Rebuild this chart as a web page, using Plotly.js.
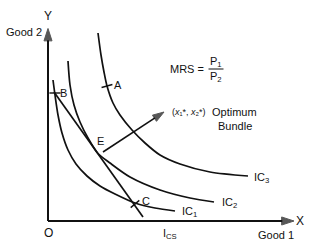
<!DOCTYPE html>
<html><head><meta charset="utf-8">
<script src="https://cdn.plot.ly/plotly-3.0.1.min.js"></script>
<style>html,body{margin:0;padding:0;background:#fff}#chart{width:310px;height:246px}</style>
</head><body><div id="chart"></div>
<script>
// Indifference curves (data units: Good 1 on x, Good 2 on y)
var ic1X = [0.2, 0.28, 0.4, 0.56, 0.8, 1.12, 1.56, 2.08, 2.68, 3.48, 4.28, 5.08];
var ic1Y = [5.64, 5.04, 4.24, 3.52, 2.84, 2.28, 1.8, 1.4, 1.08, 0.72, 0.52, 0.4];
var ic2X = [0.8, 0.88, 1.04, 1.28, 1.6, 2.0, 2.48, 3.28, 4.48, 5.68, 6.64];
var ic2Y = [6.4, 5.44, 4.64, 3.96, 3.32, 2.70, 2.32, 1.76, 1.24, 0.92, 0.76];
var ic3X = [2.0, 2.12, 2.24, 2.36, 2.6, 2.88, 3.36, 3.88, 4.48, 5.28, 6.48, 8.0];
var ic3Y = [7.52, 6.64, 5.96, 5.4, 4.72, 4.24, 3.64, 3.12, 2.64, 2.28, 1.96, 1.8];
// Budget line
var budgetX = [0.24, 3.8];
var budgetY = [5.16, 0.16];
// Marked points
var pointNames = ["A", "B", "C"];
var pointX = [2.36, 0.28, 3.48];
var pointY = [5.4, 5.12, 0.68];
var pointAngles = [-15, 0, -40];
// Optimum arrow (E -> label)
var arrowX = [2.2, 4.64];
var arrowY = [2.76, 4.36];
// Axes (origin -> arrow tips)
var yAxisX = [0, 0], yAxisY = [0, 7.7];
var xAxisX = [0, 9.84], xAxisY = [0, 0];

var black = '#111';
var lineStyle = {color: black, width: 1.7, shape: 'spline', smoothing: 0.8};
function arrowTrace(xs, ys, w, s) {
  return {x: xs, y: ys, mode: 'lines+markers', hoverinfo: 'skip', cliponaxis: false,
    line: {color: black, width: w},
    marker: {symbol: 'arrow', angleref: 'previous', size: [0, s], color: black,
             line: {color: black, width: 1}}};
}
var traces = [
  arrowTrace(yAxisX, yAxisY, 2, 13),
  arrowTrace(xAxisX, xAxisY, 2, 13),
  {x: ic1X, y: ic1Y, mode: 'lines', line: lineStyle, hoverinfo: 'skip'},
  {x: ic2X, y: ic2Y, mode: 'lines', line: lineStyle, hoverinfo: 'skip'},
  {x: ic3X, y: ic3Y, mode: 'lines', line: lineStyle, hoverinfo: 'skip'},
  {x: budgetX, y: budgetY, mode: 'lines', line: {color: black, width: 1.7}, hoverinfo: 'skip'},
  arrowTrace(arrowX, arrowY, 1.6, 12),
  {x: pointX, y: pointY, mode: 'markers', hoverinfo: 'skip',
   marker: {symbol: 'line-ew', size: 8, angle: pointAngles, line: {color: black, width: 1.4}}}
];

var F = 'Liberation Sans, Arial, sans-serif';
function lab(text, x, y, anchor, size) {
  return {text: text, x: x, y: y, xref: 'x', yref: 'y', showarrow: false,
    xanchor: anchor || 'center', yanchor: 'middle', font: {family: F, size: size || 11, color: black}};
}
var annotations = [
  lab('Y', 0, 8.2, 'center', 12),
  lab('Good 2', -0.18, 7.56, 'right', 11),
  lab('O', 0, -0.46, 'center', 12),
  lab('X', 10.06, 0.02, 'center', 12),
  lab('Good 1', 9.12, -0.56, 'center', 11),
  lab('I<sub>CS</sub>', 4.88, -0.52, 'center', 11),
  lab('IC<sub>3</sub>', 8.14, 1.72, 'left', 11),
  lab('IC<sub>2</sub>', 6.86, 0.74, 'left', 11),
  lab('IC<sub>1</sub>', 5.26, 0.38, 'left', 11),
  lab(pointNames[0], 2.78, 5.46, 'center', 11),
  lab(pointNames[1], 0.62, 5.14, 'center', 11),
  lab(pointNames[2], 3.9, 0.82, 'center', 11),
  lab('E', 2.08, 3.2, 'center', 11),
  lab('(<i>x</i>₁*, <i>x</i>₂*)', 4.86, 4.38, 'left', 9),
  lab('Optimum', 6.46, 4.38, 'left', 11),
  lab('Bundle', 7.48, 3.82, 'center', 11),
  lab('MRS =', 6.3, 6.08, 'right', 11),
  lab('P<sub>1</sub>', 6.72, 6.38, 'center', 11),
  lab('P<sub>2</sub>', 6.72, 5.76, 'center', 11)
];

// axis ranges cover the whole figure (25 px per unit, origin at 48,221)
var layout = {
  width: 310, height: 246,
  margin: {l: 0, r: 0, t: 0, b: 0, pad: 0},
  paper_bgcolor: '#fff', plot_bgcolor: '#fff',
  showlegend: false,
  xaxis: {range: [-1.92, 10.48], visible: false, fixedrange: true},
  yaxis: {range: [-1, 8.84], visible: false, fixedrange: true},
  shapes: [
    {type: 'line', xref: 'x', yref: 'y', x0: 6.42, x1: 7.02, y0: 6.08, y1: 6.08, line: {color: black, width: 1}}
  ],
  annotations: annotations
};
Plotly.newPlot('chart', traces, layout, {staticPlot: true, displayModeBar: false});
</script>
</body></html>
